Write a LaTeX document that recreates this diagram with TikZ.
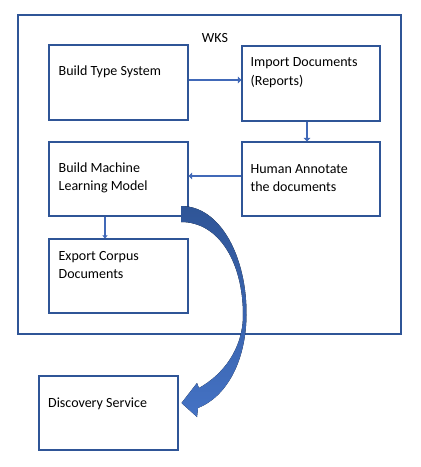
\documentclass[tikz,border=0pt]{standalone}
\usepackage{fontspec}
\setmainfont{Carlito}
\usetikzlibrary{arrows.meta,calc}
\definecolor{boxblue}{HTML}{2F5597}
\definecolor{linkblue}{HTML}{4169B8}
\definecolor{arrtop}{HTML}{2F5597}
\definecolor{arrbot}{HTML}{4472C4}
\tikzset{
  box/.style={draw=boxblue, line width=1.1pt, fill=white, rectangle, inner sep=0pt},
  lbl/.style={anchor=west, inner sep=0pt, align=left, font=\fontsize{14}{18.5}\selectfont},
  link/.style={draw=linkblue, line width=2.8pt, -{Triangle[width=6.5pt,length=3.5pt]}},
  thinlink/.style={draw=linkblue, line width=1.8pt, -{Triangle[width=5pt,length=3pt]}}
}
\begin{document}
\begin{tikzpicture}[x=1pt,y=-1pt]
\useasboundingbox (0,0) rectangle (421,467);
\node[box, minimum width=383pt, minimum height=319pt] (wks) at (209.5,174.5) {};
\node[lbl, anchor=center] (wkslbl) at (215,38) {WKS};
\node[box, minimum width=139pt, minimum height=75pt] (b1) at (118.5,82.5) {};
\node[box, minimum width=138pt, minimum height=75pt] (b2) at (311,83.5) {};
\node[box, minimum width=139pt, minimum height=74pt] (b3) at (118.5,179) {};
\node[box, minimum width=138pt, minimum height=74pt] (b4) at (311,179) {};
\node[box, minimum width=139pt, minimum height=74pt] (b5) at (118.5,276) {};
\node[box, minimum width=139pt, minimum height=74pt] (b6) at (108.5,413) {};
\node[lbl] (t1) at ($(b1.north west)+(10,27.5)$) {Build Type System};
\node[lbl] (t2) at ($(b2.north west)+(9,27)$) {Import Documents\\(Reports)};
\node[lbl] (t3) at ($(b3.north west)+(10,36.5)$) {Build Machine\\Learning Model};
\node[lbl] (t4) at ($(b4.north west)+(9,36.5)$) {Human Annotate\\the documents};
\node[lbl] (t5) at ($(b5.north west)+(10,26.5)$) {Export Corpus\\Documents};
\node[lbl] (t6) at ($(b6.north west)+(9.5,28)$) {Discovery Service};
\coordinate (ya) at (0,80);
\coordinate (xb) at (307,0);
\coordinate (yc) at (0,176);
\coordinate (xd) at (105,0);
\draw[link] (b1.east |- ya) -- (b2.west |- ya);
\draw[link] (b2.south -| xb) -- (b4.north -| xb);
\draw[link] (b4.west |- yc) -- (b3.east |- yc);
\draw[thinlink] (b3.south -| xd) -- (b5.north -| xd);
\coordinate (as) at (181,206);
\coordinate (ai) at (181,222);
\coordinate (ap) at (181.5,403);
\fill[top color=arrtop, bottom color=arrbot]
  (as) .. controls (221,206) and (247,258) .. (246.5,315)
  .. controls (246,362) and (226,397) .. (198,408)
  -- (197,417) -- (ap) -- (197,383) -- (199,388)
  .. controls (224,374) and (243,348) .. (243,315)
  .. controls (243,264) and (220,222) .. (ai) -- cycle;
\end{tikzpicture}
\end{document}
